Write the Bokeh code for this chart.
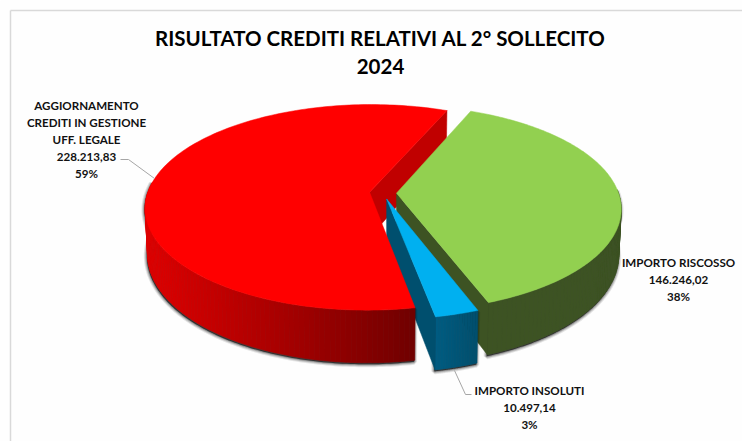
import math
from bokeh.core.properties import value
from bokeh.embed import file_html
from bokeh.models import Range1d
from bokeh.plotting import figure
from bokeh.resources import INLINE

title_lines = ["RISULTATO CREDITI RELATIVI AL 2° SOLLECITO", "2024"]
names = [["IMPORTO RISCOSSO"], ["IMPORTO INSOLUTI"], ["AGGIORNAMENTO", "CREDITI IN GESTIONE", "UFF. LEGALE"]]
values = [146246.02, 10497.14, 228213.83]
value_labels = ["146.246,02", "10.497,14", "228.213,83"]
pct_labels = ["38%", "3%", "59%"]
top_colors = ["#92d050", "#00b0f0", "#ff0000"]
cut_colors = ["#3d5323", "#004f6e", "#c00000"]

START = 22.8
X0, Y0, A, B, K, EXPLODE, H, BOTTOM = 382.5, 192.5, 222.0, 100.8, 0.146, 0.0607, 45.0, 0.99

total = sum(values)
spans, a0 = [], START
for v in values:
    spans.append((a0, a0 + v / total * 360))
    a0 += v / total * 360


def proj(x, y, low=False):
    s = 1 / (1 + K * y)
    px, py = X0 + A * x * s, Y0 - B * y * s
    if low:
        px, py = X0 + (px - X0) * BOTTOM, py + H * s
    return px, py


def geom(i):
    a, b = spans[i]
    m = math.radians((a + b) / 2)
    ox, oy = EXPLODE * math.sin(m), EXPLODE * math.cos(m)

    def rim(t, low=False):
        r = math.radians(t)
        return proj(ox + math.sin(r), oy + math.cos(r), low)

    return a, b, (ox, oy), rim


def angles(a, b, n):
    return [a + (b - a) * j / n for j in range(n + 1)]


def mix(c1, c2, t):
    return "#%02x%02x%02x" % tuple(round(u + (w - u) * t) for u, w in zip(c1, c2))


p = figure(width=742, height=441, x_range=Range1d(0, 742), y_range=Range1d(441, 0),
           output_backend="svg", toolbar_location=None, min_border=0,
           background_fill_color="#fefefe", border_fill_color="#fefefe")
p.axis.visible = False
p.grid.visible = False
p.outline_line_color = None

# frame of the chart area
p.line([10, 10], [441, 10], line_color="#d9d9d9", line_width=1.5)
p.line([10, 742], [10, 10], line_color="#d9d9d9", line_width=1.5)


def cut_face(i, t):
    a, b, c, rim = geom(i)
    pts = [proj(*c), rim(t), rim(t, True), proj(*c, True)]
    p.patch([q[0] for q in pts], [q[1] for q in pts], fill_color=cut_colors[i], line_color=cut_colors[i], line_width=0.5)


def top_face(i):
    a, b, c, rim = geom(i)
    pts = [proj(*c)] + [rim(t) for t in angles(a, b, 160)]
    p.patch([q[0] for q in pts], [q[1] for q in pts], fill_color=top_colors[i], line_color=top_colors[i], line_width=0.5)


def shadow(i, a, b):
    rim = geom(i)[3]
    ts = angles(a, b, 120)
    pts = [rim(t) for t in ts] + [rim(t, True) for t in reversed(ts)]
    xs = [q[0] - 0.7 for q in pts]
    ys = [q[1] + 1.5 for q in pts]
    for w, al in [(6, 0.10), (4, 0.16), (2, 0.25)]:
        p.patch(xs, ys, fill_color="#000000", fill_alpha=0.3, line_color="#000000", line_alpha=al, line_width=w)


def wall(i, a, b, shade, n=60):
    rim = geom(i)[3]
    ts = angles(a, b, n)
    xs, ys, cols = [], [], []
    for t1, t2 in zip(ts, ts[1:]):
        q = [rim(t1), rim(t2), rim(t2, True), rim(t1, True)]
        xs.append([u[0] for u in q])
        ys.append([u[1] for u in q])
        cols.append(shade((q[0][0] + q[1][0]) / 2))
    p.patches(xs, ys, fill_color=cols, line_color=cols, line_width=0.6)


def red_shade(x):
    return mix((222, 0, 0), (112, 0, 0), max(0, min(1, (x - 148) / 266)))


def green_shade(x):
    return "#3d5323"


def blue_shade(x):
    return mix((0, 92, 130), (1, 78, 108), max(0, min(1, (x - 434) / 44)))


# painter's order: red cut, green, blue, red front
cut_face(2, spans[2][1])

g_a, g_b = spans[0]
shadow(0, 88, g_b)
wall(0, 88, g_b, green_shade)
cut_face(0, g_b)
top_face(0)

b_a, b_b = spans[1]
shadow(1, b_a, b_b)
wall(1, b_a, b_b, blue_shade, 16)
cut_face(1, b_b)
top_face(1)

r_a, r_b = spans[2]
shadow(2, r_a, 276)
wall(2, r_a, 276, red_shade, 90)
top_face(2)

# leader lines
p.line([120, 128, 154], [159, 159, 178], line_color="#a6a6a6", line_width=1)
p.line([454, 465, 471], [370, 394, 394], line_color="#a6a6a6", line_width=1)

font = value("Lato")
p.text([380, 380], [37, 66], text=title_lines, text_font=font, text_font_style="bold", text_font_size="20.5px",
       text_align="center", text_baseline="middle", text_color="#000000")

centres = [(678, 262, 17), (529, 390, 17), (86, 105, 17)]
for i, (cx, y0, step) in enumerate(centres):
    lines = names[i] + [value_labels[i], pct_labels[i]]
    p.text([cx] * len(lines), [y0 + step * j for j in range(len(lines))], text=lines, text_font=font,
           text_font_style="bold", text_font_size="11.6px", text_align="center", text_baseline="middle",
           text_color="#111111")

open("out.html", "w").write(file_html(p, INLINE))
